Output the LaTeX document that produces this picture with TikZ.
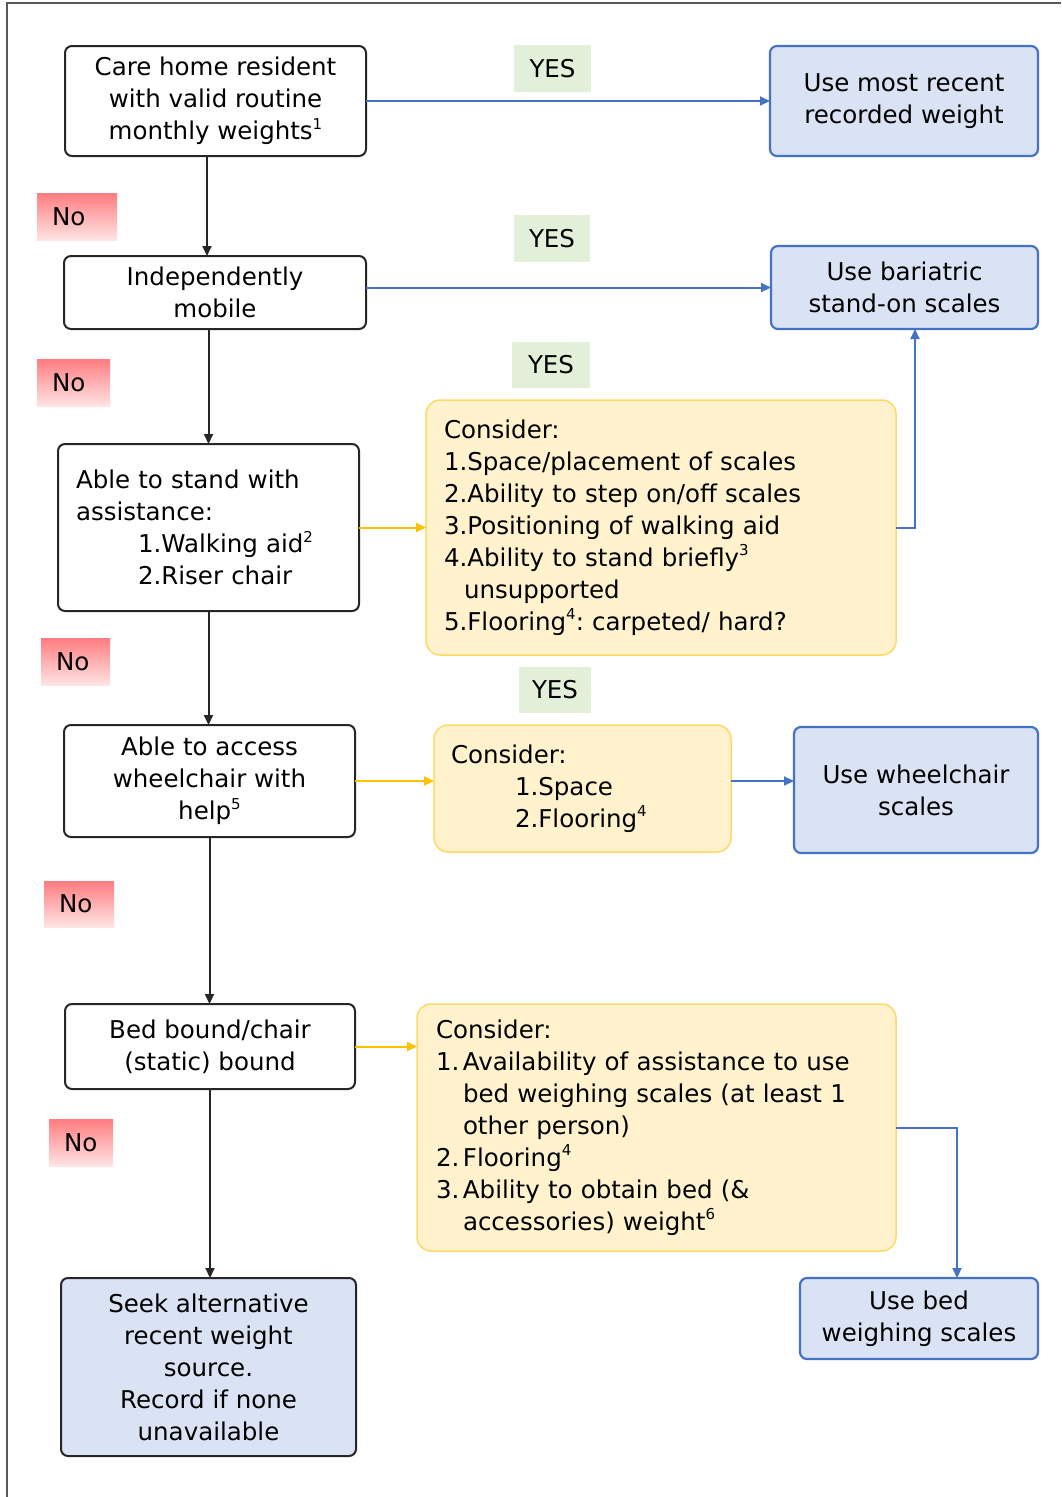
\documentclass[tikz,border=0pt]{standalone}
\usepackage{fontspec}
\setmainfont{DejaVu Sans}
\usetikzlibrary{arrows.meta,calc}
\definecolor{bluefill}{HTML}{DAE3F3}
\definecolor{blueline}{HTML}{4472C4}
\definecolor{yelfill}{HTML}{FFF2CC}
\definecolor{yelline}{HTML}{FFD966}
\definecolor{orangeln}{HTML}{FFC000}
\definecolor{greenfill}{HTML}{E2F0D9}
\definecolor{notop}{HTML}{FF7C80}
\definecolor{nobot}{HTML}{FFE4E4}
\definecolor{darkln}{HTML}{262626}
\newcommand\supnum[1]{\raisebox{0.42em}{\fontsize{15}{15}\selectfont #1}}
\frenchspacing
\begin{document}
\begin{tikzpicture}[x=1pt,y=-1pt,
  every node/.style={font=\fontsize{24.5}{32}\selectfont, inner sep=0pt, outer sep=0pt},
  whitebox/.style={draw=darkln, line width=2pt, fill=white, rounded corners=7pt, align=center},
  resultbox/.style={draw=blueline, line width=2.2pt, fill=bluefill, rounded corners=7pt, align=center},
  considerbox/.style={draw=yelline, line width=1.5pt, fill=yelfill, rounded corners=14pt, align=left},
  yeslabel/.style={fill=greenfill, align=center},
  nolabel/.style={top color=notop, bottom color=nobot, align=left, inner xsep=15pt},
  blackarrow/.style={draw=darkln, line width=2pt, -{Triangle[length=10pt,width=9pt]}},
  bluearrow/.style={draw=blueline, line width=2pt, -{Triangle[length=10pt,width=9pt]}},
  orangearrow/.style={draw=orangeln, line width=2pt, -{Triangle[length=10pt,width=9pt]}},
]
\useasboundingbox (0,0) rectangle (1061,1497);
\draw[line width=1.2pt, black!65] (7,1497) -- (7,3) -- (1061,3);

% left column
\node[whitebox, minimum width=301pt, minimum height=110pt] (b1) at (215.5,101)
  {Care home resident\\with valid routine\\monthly weights\supnum{1}};
\node[whitebox, minimum width=302pt, minimum height=73pt] (b2) at (215,292.5)
  {Independently\\mobile};
\node[whitebox, minimum width=301pt, minimum height=167pt, align=left, inner xsep=18pt, text width=265pt] (b3) at (208.5,527.5)
  {Able to stand with\\assistance:\\\hspace*{62pt}1.Walking aid\supnum{2}\\\hspace*{62pt}2.Riser chair};
\node[whitebox, minimum width=291pt, minimum height=112pt] (b4) at (209.5,781)
  {Able to access\\wheelchair with\\help\supnum{5}};
\node[whitebox, minimum width=290pt, minimum height=85pt] (b5) at (210,1046.5)
  {Bed bound/chair\\(static) bound};
\node[whitebox, fill=bluefill, minimum width=295pt, minimum height=178pt] (b6) at (208.5,1367)
  {Seek alternative\\recent weight\\source.\\Record if none\\unavailable};

% results
\node[resultbox, minimum width=268pt, minimum height=110pt] (r1) at (904,101)
  {Use most recent\\recorded weight};
\node[resultbox, minimum width=267pt, minimum height=83pt] (r2) at (904.5,287.5)
  {Use bariatric\\stand-on scales};
\node[resultbox, minimum width=244pt, minimum height=126pt] (r3) at (916,790)
  {Use wheelchair\\scales};
\node[resultbox, minimum width=238pt, minimum height=81pt] (r4) at (919,1318.5)
  {Use bed\\weighing scales};

% consider boxes
\node[considerbox, minimum width=470pt, minimum height=255pt, inner xsep=18pt, text width=434pt] (y1) at (661,527.5)
  {Consider:\\
   1.Space/placement of scales\\
   2.Ability to step on/off scales\\
   3.Positioning of walking aid\\
   4.Ability to stand briefly\supnum{3}\\
   \hspace*{20pt}unsupported\\
   5.Flooring\supnum{4}: carpeted/ hard?};
\node[considerbox, minimum width=297pt, minimum height=127pt, inner xsep=17pt, text width=263pt] (y2) at (582.5,788.5)
  {Consider:\\
   \hspace*{64pt}1.Space\\
   \hspace*{64pt}2.Flooring\supnum{4}};
\node[considerbox, minimum width=479pt, minimum height=247pt, inner xsep=19pt, text width=441pt] (y3) at (656.5,1127.5)
  {Consider:\\
   \makebox[27pt][l]{1.}Availability of assistance to use\\
   \hspace*{27pt}bed weighing scales (at least 1\\
   \hspace*{27pt}other person)\\
   \makebox[27pt][l]{2.}Flooring\supnum{4}\\
   \makebox[27pt][l]{3.}Ability to obtain bed (\&\\
   \hspace*{27pt}accessories) weight\supnum{6}};

% labels
\node[yeslabel, minimum width=77pt, minimum height=47pt] (yes1) at (552.5,68.5) {YES};
\node[yeslabel, minimum width=76pt, minimum height=47pt] (yes2) at (552,238.5) {YES};
\node[yeslabel, minimum width=78pt, minimum height=46pt] (yes3) at (551,365) {YES};
\node[yeslabel, minimum width=72pt, minimum height=46pt] (yes4) at (555,690) {YES};
\node[nolabel, minimum width=80pt, minimum height=47pt, text width=50pt] (no1) at (77,216.5) {No};
\node[nolabel, minimum width=73pt, minimum height=47pt, text width=43pt] (no2) at (73.5,382.5) {No};
\node[nolabel, minimum width=69pt, minimum height=47pt, text width=39pt] (no3) at (75.5,661.5) {No};
\node[nolabel, minimum width=70pt, minimum height=46pt, text width=40pt] (no4) at (79,904) {No};
\node[nolabel, minimum width=64pt, minimum height=47pt, text width=34pt] (no5) at (81,1142.5) {No};

% vertical No path
\draw[blackarrow] ([xshift=-8.5pt]b1.south) -- ([xshift=-8.5pt]b1.south |- b2.north);
\draw[blackarrow] (b2.south -| b3.north) -- (b3.north);
\draw[blackarrow] (b3.south) -- (b3.south |- b4.north);
\draw[blackarrow] (b4.south) -- (b4.south |- b5.north);
\draw[blackarrow] (b5.south) -- (b5.south |- b6.north);

% YES paths
\draw[bluearrow] (b1.east) -- (r1.west);
\draw[bluearrow] (b2.east |- r2.west) -- (r2.west);
\draw[orangearrow] (b3.east) -- (y1.west);
\draw[bluearrow] (y1.east) -| ([xshift=10.5pt]r2.south);
\draw[orangearrow] (b4.east) -- (b4.east -| y2.west);
\draw[bluearrow] (y2.east |- b4.east) -- (r3.west |- b4.east);
\draw[orangearrow] (b5.east) -- (b5.east -| y3.west);
\draw[bluearrow] (y3.east) -| ([xshift=38pt]r4.north);
\end{tikzpicture}
\end{document}
